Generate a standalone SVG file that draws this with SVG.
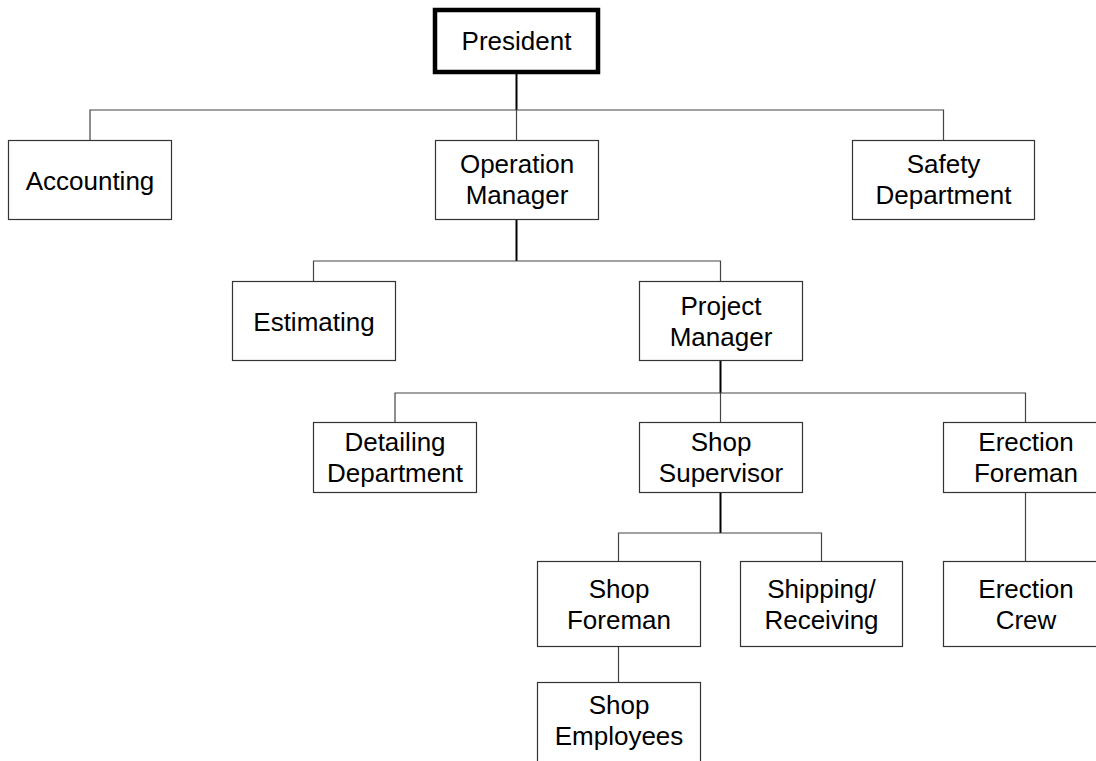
<svg xmlns="http://www.w3.org/2000/svg" width="1096" height="761" viewBox="0 0 1096 761">
<style>
.box{fill:#fff;stroke:#333;stroke-width:1.2}
.pres{fill:#fff;stroke:#000;stroke-width:4.5}
.t{font-family:"Liberation Sans",Arial,sans-serif;font-size:26px;fill:#000;text-anchor:middle}
.stem{stroke:#000;stroke-width:2;fill:none}
.ln{stroke:#444;stroke-width:1.2;fill:none}
</style>
<rect width="1096" height="761" fill="#fff"/>
<g id="connectors">
  <line class="stem" x1="516.5" y1="72" x2="516.5" y2="110"/>
  <polyline class="ln" points="90,140 90,110 943.5,110 943.5,140"/>
  <line class="ln" x1="516.5" y1="110" x2="516.5" y2="140"/>
  <line class="stem" x1="516.5" y1="220" x2="516.5" y2="261"/>
  <polyline class="ln" points="313.5,281 313.5,261 720.5,261 720.5,281"/>
  <line class="stem" x1="720.5" y1="361" x2="720.5" y2="393"/>
  <polyline class="ln" points="395,422 395,393 1025.5,393 1025.5,422"/>
  <line class="ln" x1="720.5" y1="393" x2="720.5" y2="422"/>
  <line class="stem" x1="720.5" y1="493" x2="720.5" y2="533"/>
  <polyline class="ln" points="618.5,561 618.5,533 821.5,533 821.5,561"/>
  <line class="ln" x1="1025.5" y1="493" x2="1025.5" y2="561"/>
  <line class="ln" x1="618.5" y1="647" x2="618.5" y2="682"/>
</g>
<g id="president">
  <rect class="pres" x="435" y="10" width="163" height="62"/>
  <text class="t" x="516.5" y="50">President</text>
</g>
<g id="accounting">
  <rect class="box" x="8.5" y="140.5" width="163" height="79"/>
  <text class="t" x="90" y="189.5">Accounting</text>
</g>
<g id="operation-manager">
  <rect class="box" x="435.5" y="140.5" width="163" height="79"/>
  <text class="t" x="517" y="173">Operation</text>
  <text class="t" x="517" y="204">Manager</text>
</g>
<g id="safety-department">
  <rect class="box" x="852.5" y="140.5" width="182" height="79"/>
  <text class="t" x="943.5" y="173">Safety</text>
  <text class="t" x="943.5" y="204">Department</text>
</g>
<g id="estimating">
  <rect class="box" x="232.5" y="281.5" width="163" height="79"/>
  <text class="t" x="314" y="330.5">Estimating</text>
</g>
<g id="project-manager">
  <rect class="box" x="639.5" y="281.5" width="163" height="79"/>
  <text class="t" x="721" y="314.5">Project</text>
  <text class="t" x="721" y="345.5">Manager</text>
</g>
<g id="detailing-department">
  <rect class="box" x="313.5" y="422.5" width="163" height="70"/>
  <text class="t" x="395" y="451">Detailing</text>
  <text class="t" x="395" y="482">Department</text>
</g>
<g id="shop-supervisor">
  <rect class="box" x="639.5" y="422.5" width="163" height="70"/>
  <text class="t" x="721" y="451">Shop</text>
  <text class="t" x="721" y="482">Supervisor</text>
</g>
<g id="erection-foreman">
  <rect class="box" x="943.5" y="422.5" width="165" height="70"/>
  <text class="t" x="1026" y="451">Erection</text>
  <text class="t" x="1026" y="482">Foreman</text>
</g>
<g id="shop-foreman">
  <rect class="box" x="537.5" y="561.5" width="163" height="85"/>
  <text class="t" x="619" y="598">Shop</text>
  <text class="t" x="619" y="629">Foreman</text>
</g>
<g id="shipping-receiving">
  <rect class="box" x="740.5" y="561.5" width="162" height="85"/>
  <text class="t" x="821.5" y="598">Shipping/</text>
  <text class="t" x="821.5" y="629">Receiving</text>
</g>
<g id="erection-crew">
  <rect class="box" x="943.5" y="561.5" width="165" height="85"/>
  <text class="t" x="1026" y="598">Erection</text>
  <text class="t" x="1026" y="629">Crew</text>
</g>
<g id="shop-employees">
  <rect class="box" x="537.5" y="682.5" width="163" height="90"/>
  <text class="t" x="619" y="714">Shop</text>
  <text class="t" x="619" y="745">Employees</text>
</g>
</svg>
